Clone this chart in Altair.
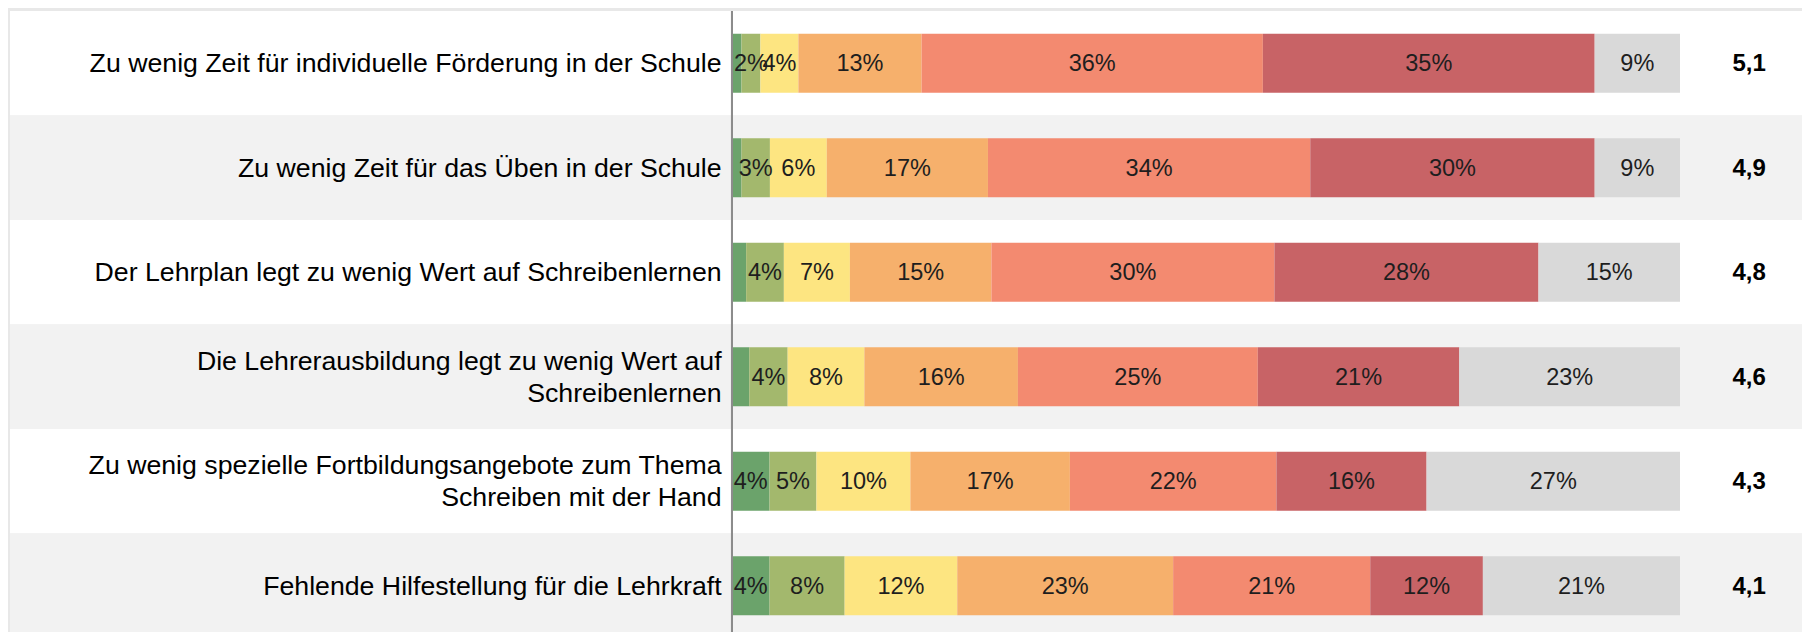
import altair as alt
import pandas as pd

# ---------------- data ----------------
categories = [
    "Zu wenig Zeit für individuelle Förderung in der Schule",
    "Zu wenig Zeit für das Üben in der Schule",
    "Der Lehrplan legt zu wenig Wert auf Schreibenlernen",
    "Die Lehrerausbildung legt zu wenig Wert auf\nSchreibenlernen",
    "Zu wenig spezielle Fortbildungsangebote zum Thema\nSchreiben mit der Hand",
    "Fehlende Hilfestellung für die Lehrkraft",
]
levels = ["1", "2", "3", "4", "5", "6", "keine Angabe"]
level_colors = ["#6ba36b", "#a3b86d", "#fde581", "#f6b06c", "#f38a70", "#c86366", "#d9d9d9"]

lvl1 = [1, 1, 1.5, 1.8, 4, 4]
lvl2 = [2, 3, 4, 4, 5, 8]
lvl3 = [4, 6, 7, 8, 10, 12]
lvl4 = [13, 17, 15, 16, 17, 23]
lvl5 = [36, 34, 30, 25, 22, 21]
lvl6 = [35, 30, 28, 21, 16, 12]
lvl_na = [9, 9, 15, 23, 27, 21]
means = [5.1, 4.9, 4.8, 4.6, 4.3, 4.1]
row_fills = ["#ffffff", "#f2f2f2", "#ffffff", "#f2f2f2", "#ffffff", "#f2f2f2"]

# ---------------- tables ----------------
series = [lvl1, lvl2, lvl3, lvl4, lvl5, lvl6, lvl_na]
rows = []
for i, cat in enumerate(categories):
    vals = [s[i] for s in series]
    total = sum(vals)
    cum = 0.0
    for lev, v in zip(levels, vals):
        start = cum / total * 100
        cum += v
        end = cum / total * 100
        rows.append({
            "cat": cat, "level": lev, "value": v,
            "start": start, "end": end, "mid": (start + end) / 2,
            "label": f"{round(v)}%" if v >= 2 else "",
        })
seg = pd.DataFrame(rows)

rowdf = pd.DataFrame({
    "cat": categories,
    "fill": row_fills,
    "mean": [f"{m:.1f}".replace(".", ",") for m in means],
    "multi": ["\n" in c for c in categories],
})

XMIN, XMAX = -76.16, 112.87
FONT = "Liberation Sans"
LINE_H = 32

xscale = alt.Scale(domain=[XMIN, XMAX], nice=False, zero=False)
yscale = alt.Scale(domain=categories, paddingInner=0, paddingOuter=0)
Y = alt.Y("cat:N", scale=yscale, axis=None)
base = alt.Chart(rowdf).transform_calculate(
    xmin=str(XMIN), xmax=str(XMAX), zero="0", xlab="-1.1", xmean="107.3"
)

bands = base.mark_rect().encode(
    x=alt.X("xmin:Q", scale=xscale, axis=None), x2="xmax:Q",
    y=Y,
    fill=alt.Fill("fill:N", scale=None, legend=None),
)

bars = alt.Chart(seg).mark_bar(height=59).encode(
    x=alt.X("start:Q", scale=xscale, axis=None), x2="end:Q",
    y=Y,
    color=alt.Color("level:N", scale=alt.Scale(domain=levels, range=level_colors), legend=None),
)

axis_rule = base.mark_rule(color="#8c8c8c", strokeWidth=2).encode(
    x=alt.X("zero:Q", scale=xscale, axis=None),
)

seg_text = alt.Chart(seg).mark_text(
    font=FONT, fontSize=23.5, color="#1e1e1e", align="center", baseline="middle", dy=1
).encode(
    x=alt.X("mid:Q", scale=xscale, axis=None), y=Y, text="label:N",
)

cat_single = base.transform_filter("!datum.multi").mark_text(
    font=FONT, fontSize=26.7, color="#000000", align="right", baseline="middle", dy=1,
).encode(
    x=alt.X("xlab:Q", scale=xscale, axis=None), y=Y, text="cat:N",
)

cat_multi = base.transform_filter("datum.multi").mark_text(
    font=FONT, fontSize=26.7, color="#000000", align="right", baseline="middle",
    lineBreak="\n", lineHeight=LINE_H, dy=1 - LINE_H / 2,
).encode(
    x=alt.X("xlab:Q", scale=xscale, axis=None), y=Y, text="cat:N",
)

mean_text = base.mark_text(
    font=FONT, fontSize=24, fontWeight="bold", color="#000000", align="center", baseline="middle", dy=1,
).encode(
    x=alt.X("xmean:Q", scale=xscale, axis=None), y=Y, text="mean:N",
)

chart = alt.layer(bands, bars, axis_rule, seg_text, cat_single, cat_multi, mean_text).properties(
    width=1792, height=627,
    background="#e8e8e8",
    padding={"left": 2, "top": 2, "right": 0, "bottom": 0},
).configure_view(stroke=None)

chart.save("out.html", embed_options={"renderer": "svg", "actions": False})
